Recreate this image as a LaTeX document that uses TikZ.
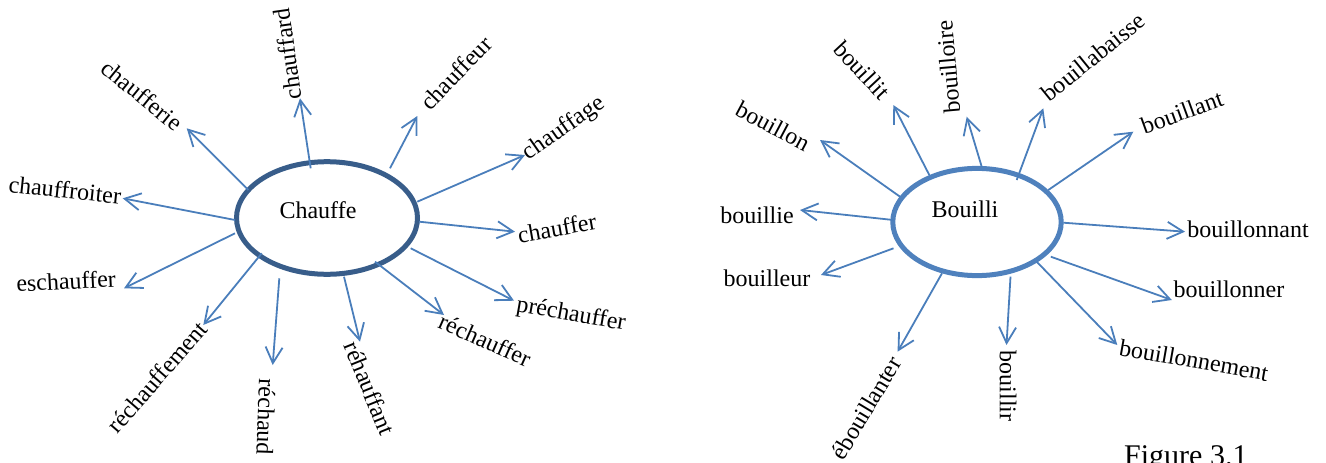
\documentclass[tikz,border=0pt]{standalone}
\usepackage{fontspec}
\setmainfont{Liberation Serif}
\usetikzlibrary{arrows.meta,shapes.geometric}
\definecolor{arrblue}{RGB}{74,126,187}
\definecolor{darkring}{RGB}{56,93,138}
\definecolor{lightring}{RGB}{79,129,189}
\tikzset{
  arr/.style={draw=arrblue, line width=1.8pt, -{Straight Barb[length=16pt,width=17pt]}},
  lbl/.style={inner sep=0pt, font=\fontsize{24}{28}\selectfont},
  ring/.style={ellipse, line width=5pt, inner sep=0pt},
}
\begin{document}
\begin{tikzpicture}[x=1pt,y=-1pt]
\useasboundingbox (0,0) rectangle (1326,463);
% ---------- left diagram ----------
\node[ring, draw=darkring, minimum width=181pt, minimum height=112.6pt] (E1) at (327,218) {};
\node[lbl] (c1) at (318,210) {Chauffe};
\node[lbl, rotate=98] (w1) at (287,54) {chauffard};
\node[lbl, rotate=-39] (w2) at (142,95) {chaufferie};
\node[lbl, rotate=-6] (w3) at (65,190) {chauffroiter};
\node[lbl, rotate=3] (w4) at (66,281) {eschauffer};
\node[lbl, rotate=49] (w5) at (157,377) {réchauffement};
\node[lbl, rotate=-92] (w6) at (266,417) {réchaud};
\node[lbl, rotate=-68] (w7) at (370,388) {réhauffant};
\node[lbl, rotate=-24] (w8) at (485,340) {réchauffer};
\node[lbl, rotate=-10] (w9) at (571,315) {préchauffer};
\node[lbl, rotate=10] (w10) at (557,228) {chauffer};
\node[lbl, rotate=35] (w11) at (564,129) {chauffage};
\node[lbl, rotate=46] (w12) at (456,73) {chauffeur};
\coordinate (s1) at (310.7,168.3);  \coordinate (t1) at (300,98.3);
\coordinate (s2) at (248.3,190);    \coordinate (t2) at (186.7,128.3);
\coordinate (s3) at (235,220);      \coordinate (t3) at (122.7,198.3);
\coordinate (s4) at (235,233.3);    \coordinate (t4) at (124,288.3);
\coordinate (s5) at (261.7,253.3);  \coordinate (t5) at (203.3,325);
\coordinate (s6) at (279.3,278.3);  \coordinate (t6) at (272.7,365);
\coordinate (s7) at (344,276.7);    \coordinate (t7) at (360,341.7);
\coordinate (s8) at (375,261.7);    \coordinate (t8) at (444,315);
\coordinate (s9) at (410.7,248.3);  \coordinate (t9) at (514,300.7);
\coordinate (s10) at (419.3,221.7); \coordinate (t10) at (515,231.7);
\coordinate (s11) at (417.3,201.7); \coordinate (t11) at (525,155);
\coordinate (s12) at (390,168.3);   \coordinate (t12) at (417.3,116);
\foreach \i in {1,...,12} { \draw[arr] (s\i) -- (t\i); }
% ---------- right diagram ----------
\node[ring, draw=lightring, minimum width=168.4pt, minimum height=107.2pt] (E2) at (977,222) {};
\node[lbl] (c2) at (965,209) {Bouilli};
\node[lbl, rotate=-28] (v1) at (773,126) {bouillon};
\node[lbl, rotate=-47] (v2) at (862,70) {bouillit};
\node[lbl, rotate=95] (v3) at (948,67) {bouilloire};
\node[lbl, rotate=39] (v4) at (1093,57) {bouillabaisse};
\node[lbl, rotate=20] (v5) at (1182,112) {bouillant};
\node[lbl] (v6) at (1248,229) {bouillonnant};
\node[lbl] (v7) at (1229,289) {bouillonner};
\node[lbl, rotate=-10] (v8) at (1194,360) {bouillonnement};
\node[lbl, rotate=-90] (v9) at (1008,386) {bouillir};
\node[lbl, rotate=59] (v10) at (866,408) {ébouillanter};
\node[lbl] (v11) at (767,278) {bouilleur};
\node[lbl] (v12) at (757,215) {bouillie};
\coordinate (p1) at (900,196.7);    \coordinate (q1) at (820,140);
\coordinate (p2) at (929.3,175);    \coordinate (q2) at (893.3,105);
\coordinate (p3) at (981.7,166.7);  \coordinate (q3) at (966.7,116.7);
\coordinate (p4) at (1016.7,180);   \coordinate (q4) at (1043.3,108.3);
\coordinate (p5) at (1048.3,190);   \coordinate (q5) at (1133.3,131.7);
\coordinate (p6) at (1063.3,222.7); \coordinate (q6) at (1185,231.7);
\coordinate (p7) at (1050.8,256.7); \coordinate (q7) at (1171.8,300);
\coordinate (p8) at (1036.7,261.7); \coordinate (q8) at (1117.3,345);
\coordinate (p9) at (1010.5,276.7); \coordinate (q9) at (1006.5,345);
\coordinate (p10) at (942,273.3);   \coordinate (q10) at (897.6,351.7);
\coordinate (p11) at (893.5,248.3); \coordinate (q11) at (821,275);
\coordinate (p12) at (893.3,220);   \coordinate (q12) at (800,210);
\foreach \i in {1,...,12} { \draw[arr] (p\i) -- (q\i); }
\node[inner sep=0pt, anchor=base west, font=\fontsize{30}{36}\selectfont] (fig) at (1124,465) {Figure 3.1};
\end{tikzpicture}
\end{document}
